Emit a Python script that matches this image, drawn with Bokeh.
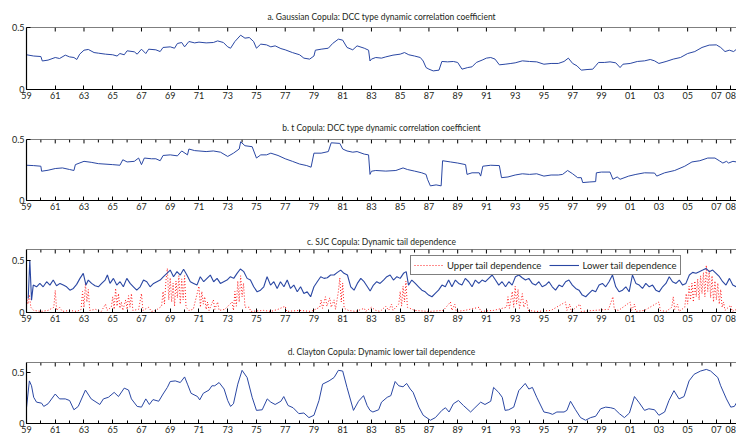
from bokeh.plotting import figure
from bokeh.models import FixedTicker, Range1d, Legend, LegendItem, Span
from bokeh.layouts import column
from bokeh.embed import file_html
from bokeh.resources import INLINE

# ---------------- data (x = year - 1900) ----------------
tick_years = [59, 61, 63, 65, 67, 69, 71, 73, 75, 77, 79, 81, 83, 85, 87, 89, 91, 93, 95, 97, 99, 101, 103, 105, 107, 108]
tick_labels = ["59", "61", "63", "65", "67", "69", "71", "73", "75", "77", "79", "81", "83", "85", "87", "89", "91", "93",
               "95", "97", "99", "01", "03", "05", "07", "08"]
minor_years = [60, 62, 64, 66, 68, 70, 72, 74, 76, 78, 80, 82, 84, 86, 88, 90, 92, 94, 96, 98, 100, 102, 104, 106]

titles = ["a. Gaussian Copula: DCC type dynamic correlation coefficient",
          "b. t Copula: DCC type dynamic correlation coefficient",
          "c. SJC Copula: Dynamic tail dependence",
          "d. Clayton Copula: Dynamic lower tail dependence"]
legend_labels = ["Upper tail dependence", "Lower tail dependence"]
y_ticks = [0, 0.5]
y_tick_labels = ["0", "0.5"]

gauss_x = [59.0, 59.5, 60.0, 60.1, 60.5, 61.0, 61.3, 61.7, 62.0, 62.3, 62.5, 62.7, 63.0, 63.3, 63.7, 64.0, 64.5,
           65.0, 65.3, 65.5, 65.8, 66.0, 66.5, 66.7, 67.0, 67.3, 67.5, 68.0, 68.3, 68.5, 69.0, 69.3, 69.5, 69.8,
           70.0, 70.3, 70.7, 71.0, 71.5, 72.0, 72.3, 72.7, 73.0, 73.2, 73.5, 73.9, 74.2, 74.5, 74.8, 75.0, 75.3,
           75.7, 76.0, 76.3, 76.7, 77.0, 77.5, 78.0, 78.3, 78.7, 79.0, 79.1, 79.5, 80.0, 80.3, 80.7, 81.0, 81.3,
           81.7, 82.0, 82.5, 82.8, 82.9,
           83.0, 83.3, 83.7, 84.0, 84.5, 85.0, 85.3, 85.6, 86.0, 86.4, 86.6, 86.8, 87.0, 87.3, 87.7, 87.9, 88.3,
           88.7, 89.0, 89.3, 89.7, 90.0, 90.3, 90.7, 91.0, 91.3, 91.6, 91.9, 92.3, 92.7, 93.0, 93.5, 94.0, 94.5,
           95.0, 95.5, 96.0, 96.4, 96.7, 97.0, 97.3, 97.6, 98.0, 98.4, 98.6, 98.8, 99.2, 99.6, 100.0, 100.3, 100.5,
           101.0, 101.5, 102.0, 102.4, 102.7, 103.0, 103.5, 104.0, 104.5, 105.0, 105.5, 106.0, 106.5, 107.0, 107.3,
           107.6, 107.9, 108.2, 108.4]
gauss_y = [0.28, 0.27, 0.266, 0.23, 0.237, 0.258, 0.25, 0.277, 0.263, 0.258, 0.242, 0.285, 0.317, 0.323, 0.298, 0.293,
           0.285, 0.28, 0.27, 0.29, 0.28, 0.312, 0.304, 0.285, 0.325, 0.29, 0.325, 0.32, 0.306, 0.339, 0.344, 0.333,
           0.371, 0.379, 0.344, 0.387, 0.376, 0.382, 0.376, 0.379, 0.392, 0.379, 0.344, 0.333, 0.387, 0.438, 0.414,
           0.419, 0.387, 0.333, 0.366, 0.36, 0.344, 0.352, 0.33, 0.32, 0.298, 0.28, 0.253, 0.245, 0.27, 0.317, 0.325,
           0.333, 0.371, 0.406, 0.398, 0.339, 0.32, 0.352, 0.333, 0.317, 0.23,
           0.245, 0.258, 0.253, 0.263, 0.277, 0.285, 0.298, 0.28, 0.27, 0.258, 0.23, 0.177, 0.164, 0.15, 0.156, 0.226,
           0.223, 0.226, 0.218, 0.164, 0.177, 0.183, 0.218, 0.237, 0.253, 0.258, 0.245, 0.199, 0.204, 0.21, 0.215,
           0.231, 0.226, 0.223, 0.204, 0.21, 0.21, 0.226, 0.253, 0.21, 0.191, 0.156, 0.161, 0.164, 0.191, 0.218,
           0.218, 0.223, 0.215, 0.177, 0.204, 0.21, 0.226, 0.231, 0.242, 0.231, 0.21, 0.226, 0.245, 0.258, 0.29,
           0.306, 0.339, 0.358, 0.36, 0.339, 0.306, 0.317, 0.306, 0.325]

t_x = [59.0, 59.5, 60.0, 60.05, 60.5, 61.0, 61.5, 62.0, 62.3, 62.4, 63.0, 63.5, 64.0, 65.0, 65.5, 65.7, 66.0, 66.5,
       66.8, 67.0, 67.2, 67.7, 68.0, 68.3, 68.5, 69.0, 69.5, 69.8, 70.2, 70.3, 70.7, 71.0, 71.5, 72.0, 72.5, 73.0,
       73.4, 73.8, 73.9, 74.2, 74.7, 75.0, 75.3, 75.7, 76.0, 76.5, 77.0, 77.5, 78.0, 78.5, 78.8, 79.0, 79.5, 80.0,
       80.2, 80.8, 81.0, 81.3, 81.7, 82.0, 82.5, 82.8, 82.9, 83.0,
       83.3, 84.0, 84.7, 85.2, 85.5, 86.0, 86.5, 86.8, 86.9, 87.1, 87.5, 87.85, 87.95, 88.5, 89.0, 89.55, 89.65,
       90.0, 90.5, 90.6, 90.75, 91.3, 91.9, 92.05, 92.5, 93.0, 93.5, 94.0, 94.5, 95.0, 95.5, 96.0, 96.3, 96.65,
       97.0, 97.35, 97.6, 97.7, 98.2, 98.6, 98.65, 99.0, 99.6, 99.8, 100.1, 100.3, 100.9, 101.4, 102.0, 102.7,
       102.85, 103.4, 104.1, 104.8, 105.3, 105.85, 106.4, 106.9, 107.2, 107.45, 107.7, 107.85, 108.15, 108.4]
t_y = [0.289, 0.286, 0.281, 0.24, 0.248, 0.262, 0.267, 0.254, 0.246, 0.294, 0.321, 0.313, 0.302, 0.294, 0.289, 0.334,
       0.316, 0.321, 0.348, 0.294, 0.348, 0.342, 0.342, 0.326, 0.369, 0.374, 0.366, 0.406, 0.374, 0.422, 0.409,
       0.406, 0.401, 0.406, 0.396, 0.361, 0.388, 0.422, 0.481, 0.449, 0.441, 0.348, 0.374, 0.374, 0.388, 0.369,
       0.342, 0.321, 0.299, 0.286, 0.273, 0.388, 0.388, 0.401, 0.473, 0.468, 0.422, 0.406, 0.396, 0.401, 0.38,
       0.374, 0.214, 0.24,
       0.246, 0.241, 0.246, 0.267, 0.254, 0.241, 0.227, 0.214, 0.174, 0.12, 0.128, 0.12, 0.326, 0.316, 0.307,
       0.294, 0.214, 0.227, 0.227, 0.2, 0.281, 0.289, 0.286, 0.187, 0.193, 0.209, 0.219, 0.214, 0.219, 0.2, 0.209,
       0.209, 0.214, 0.246, 0.219, 0.187, 0.187, 0.147, 0.152, 0.155, 0.227, 0.233, 0.233, 0.174, 0.193, 0.174,
       0.2, 0.214, 0.227, 0.225, 0.2, 0.227, 0.246, 0.281, 0.316, 0.326, 0.348, 0.348, 0.326, 0.307, 0.321, 0.307,
       0.321, 0.316]

lower_x = [59.12, 59.23, 59.35, 59.47, 59.70, 59.93, 60.16, 60.40, 60.63, 60.86, 61.09, 61.33, 61.56, 61.79, 62.02,
           62.26, 62.49, 62.72, 62.95, 63.14, 63.30, 63.53, 63.77, 64.00, 64.23, 64.47, 64.63, 64.81, 65.05, 65.28,
           65.51, 65.74, 65.98, 66.21, 66.44, 66.67, 66.91, 67.14, 67.37, 67.60, 67.84, 68.07, 68.30, 68.53, 68.77,
           69.00, 69.23, 69.47, 69.70, 69.93, 70.16, 70.40, 70.63, 70.86, 71.09, 71.33, 71.56, 71.79, 72.02, 72.26,
           72.49, 72.72, 72.95, 73.19, 73.42, 73.65, 73.88, 74.12, 74.35, 74.58, 74.81, 75.05, 75.28, 75.51, 75.74,
           75.98, 76.21, 76.44, 76.67, 76.91, 77.14, 77.37, 77.60, 77.84, 78.07, 78.30, 78.53, 78.77, 79.00, 79.23,
           79.47, 79.70, 79.93, 80.16, 80.40, 80.63, 80.86, 81.09, 81.33, 81.56, 81.79, 82.02, 82.26, 82.49, 82.72,
           82.91,
           83.14, 83.37, 83.60, 83.84, 84.07, 84.30, 84.53, 84.77, 85.00, 85.23, 85.42, 85.58, 85.81, 86.05, 86.28,
           86.51, 86.74, 86.98, 87.21, 87.44, 87.67, 87.91, 88.14, 88.37, 88.60, 88.84, 89.07, 89.30, 89.53, 89.77,
           90.00, 90.23, 90.47, 90.70, 90.93, 91.16, 91.40, 91.63, 91.86, 92.09, 92.33, 92.56, 92.79, 93.02, 93.26,
           93.49, 93.72, 93.95, 94.19, 94.42, 94.65, 94.88, 95.12, 95.35, 95.58, 95.81, 96.05, 96.28, 96.51, 96.74,
           96.98, 97.21, 97.44, 97.67, 97.91, 98.14, 98.37, 98.60, 98.84, 99.07, 99.30, 99.53, 99.77, 100.00, 100.23,
           100.47, 100.70, 100.93, 101.16, 101.40, 101.63, 101.86, 102.09, 102.33, 102.56, 102.79, 103.02, 103.26,
           103.49, 103.72, 103.95, 104.19, 104.42, 104.65, 104.88, 105.12, 105.35, 105.58, 105.81, 106.05, 106.28,
           106.51, 106.74, 106.98, 107.21, 107.44, 107.67, 107.91, 108.14, 108.37]
lower_y = [0.134, 0.5, 0.118, 0.261, 0.245, 0.277, 0.245, 0.293, 0.261, 0.309,
           0.255, 0.277, 0.261, 0.245, 0.213, 0.229, 0.268, 0.325, 0.373, 0.261,
           0.309, 0.277, 0.255, 0.245, 0.277, 0.309, 0.357, 0.277, 0.325, 0.261,
           0.293, 0.245, 0.325, 0.277, 0.245, 0.213, 0.245, 0.309, 0.293, 0.245,
           0.277, 0.293, 0.309, 0.341, 0.373, 0.404, 0.341, 0.389, 0.357, 0.411,
           0.357, 0.293, 0.277, 0.261, 0.341, 0.293, 0.325, 0.357, 0.293, 0.325,
           0.277, 0.293, 0.309, 0.341, 0.325, 0.373, 0.414, 0.389, 0.325, 0.309,
           0.245, 0.197, 0.213, 0.245, 0.341, 0.261, 0.293, 0.229, 0.293, 0.245,
           0.309, 0.229, 0.261, 0.197, 0.245, 0.182, 0.197, 0.150, 0.245, 0.293,
           0.341, 0.325, 0.331, 0.357, 0.357, 0.382, 0.404, 0.373, 0.357, 0.245,
           0.213, 0.277, 0.325, 0.293, 0.245, 0.204,
           0.261, 0.293, 0.277, 0.309, 0.341, 0.357, 0.309, 0.341, 0.325, 0.373,
           0.389,
           0.261, 0.309, 0.277, 0.245, 0.213, 0.197, 0.166, 0.150, 0.182, 0.213,
           0.261, 0.245, 0.309, 0.245, 0.309, 0.277, 0.261, 0.325, 0.293, 0.245,
           0.309, 0.277, 0.309, 0.293, 0.325, 0.357, 0.309, 0.261, 0.293, 0.245,
           0.293, 0.261, 0.341, 0.357, 0.331, 0.309, 0.325, 0.277, 0.261, 0.293,
           0.245, 0.261, 0.293, 0.245, 0.213, 0.261, 0.245, 0.293, 0.309, 0.261,
           0.229, 0.213, 0.166, 0.150, 0.182, 0.213, 0.197, 0.261, 0.277, 0.245,
           0.293, 0.357, 0.245, 0.197, 0.213, 0.245, 0.197, 0.357, 0.277, 0.261,
           0.229, 0.277, 0.245, 0.261, 0.213, 0.197, 0.245, 0.277, 0.341, 0.293,
           0.277, 0.309, 0.261, 0.277, 0.357, 0.382, 0.373, 0.389, 0.404, 0.420,
           0.389, 0.404, 0.373, 0.341, 0.293, 0.261, 0.325, 0.261, 0.245]

upper_x = [59.0, 59.1, 59.2, 59.3, 59.5, 60.0, 60.5, 60.9, 61.0, 61.1, 61.3, 61.5,
           62.0, 62.5, 62.8, 62.9, 63.0, 63.1, 63.2, 63.3, 63.4, 63.8,
           64.2, 64.5, 64.6, 64.9, 65.0, 65.1, 65.2, 65.3, 65.4, 65.5, 65.6, 65.7,
           65.9, 66.0, 66.1, 66.2, 66.3, 66.4, 66.8, 67.0, 67.1, 67.5, 67.7,
           68.0, 68.4, 68.5, 68.6, 68.7, 68.8, 68.9, 69.0, 69.1, 69.2, 69.3, 69.4, 69.5, 69.6, 69.7, 69.8, 69.9, 70.0, 70.1,
           70.3, 70.6, 71.0, 71.1, 71.2, 71.3, 71.4, 71.5, 71.6, 71.7,
           72.0, 72.1, 72.3, 72.4, 72.8,
           73.3, 73.4, 73.5, 73.6, 73.7, 73.8, 73.9, 74.0, 74.1, 74.2,
           74.5, 74.6, 75.5, 76.0, 76.5, 77.0, 77.1, 78.0, 78.8,
           79.4, 79.5, 79.6, 79.8, 79.9, 80.1, 80.2, 80.4, 80.5, 80.7, 80.8, 80.9, 81.0, 81.1,
           81.4, 81.9, 82.5, 82.6, 83.0, 83.3, 83.6,
           84.0, 84.2, 84.4, 84.5, 84.9, 85.0, 85.1, 85.2, 85.3, 85.4, 85.5,
           86.0, 87.0, 88.0, 88.5, 88.6, 88.8, 88.9, 89.5, 90.5, 90.6, 91.5,
           92.4, 92.5, 92.6, 92.8, 92.9, 93.0, 93.1, 93.2, 93.3, 93.5, 93.6, 93.8, 93.9,
           94.5, 95.5, 96.5, 96.6, 96.8, 96.9, 97.5, 97.6, 98.5, 99.5, 99.8, 99.9, 100.2,
           101.0, 101.1, 101.3, 101.4, 102.0, 103.0, 103.1, 103.5,
           103.9, 104.0, 104.1, 104.3, 104.4,
           104.8, 104.9, 105.0, 105.1, 105.2, 105.3, 105.4, 105.5, 105.6, 105.7, 105.8, 105.9, 106.0, 106.1, 106.2,
           106.3, 106.4, 106.5, 106.6, 106.7, 106.8, 106.9, 107.0, 107.1, 107.2, 107.3, 107.4, 107.5, 107.6,
           108.0, 108.1, 108.4]
upper_y = [0.15, 0.08, 0.17, 0.05, 0.02, 0.01, 0.02, 0.05, 0.21, 0.02, 0.05, 0.01,
           0.02, 0.01, 0.03, 0.2, 0.05, 0.28, 0.1, 0.22, 0.02, 0.03,
           0.01, 0.08, 0.02, 0.05, 0.15, 0.03, 0.23, 0.06, 0.18, 0.04, 0.1, 0.02,
           0.12, 0.03, 0.16, 0.05, 0.18, 0.02, 0.03, 0.18, 0.02, 0.05, 0.01,
           0.02, 0.06, 0.2, 0.08, 0.3, 0.42, 0.12, 0.33, 0.1, 0.28, 0.06, 0.3, 0.14, 0.35, 0.08, 0.32, 0.12, 0.35, 0.05,
           0.02, 0.03, 0.25, 0.05, 0.2, 0.08, 0.15, 0.03, 0.1, 0.02,
           0.12, 0.03, 0.1, 0.02, 0.03,
           0.1, 0.02, 0.2, 0.06, 0.3, 0.1, 0.35, 0.15, 0.28, 0.05,
           0.05, 0.01, 0.02, 0.01, 0.03, 0.06, 0.01, 0.02, 0.01,
           0.05, 0.12, 0.04, 0.15, 0.06, 0.14, 0.05, 0.12, 0.03, 0.2, 0.33, 0.1, 0.28, 0.04,
           0.02, 0.01, 0.04, 0.01, 0.05, 0.02, 0.01,
           0.06, 0.02, 0.08, 0.02, 0.08, 0.2, 0.06, 0.25, 0.1, 0.3, 0.05,
           0.02, 0.01, 0.02, 0.1, 0.02, 0.08, 0.01, 0.02, 0.05, 0.01, 0.02,
           0.05, 0.15, 0.04, 0.2, 0.05, 0.25, 0.08, 0.22, 0.04, 0.18, 0.05, 0.12, 0.02,
           0.01, 0.02, 0.1, 0.02, 0.08, 0.01, 0.08, 0.01, 0.02, 0.03, 0.15, 0.03, 0.02,
           0.1, 0.02, 0.08, 0.01, 0.02, 0.1, 0.02, 0.01,
           0.05, 0.15, 0.03, 0.08, 0.01,
           0.05, 0.18, 0.08, 0.25, 0.12, 0.28, 0.1, 0.3, 0.15, 0.32, 0.12, 0.35, 0.18, 0.38, 0.15,
           0.45, 0.2, 0.4, 0.14, 0.35, 0.1, 0.3, 0.12, 0.28, 0.08, 0.22, 0.05, 0.1, 0.02,
           0.07, 0.01, 0.03]

clayton_x = [59.0, 59.2, 59.35, 59.5, 59.7, 60.05, 60.2, 60.5, 61.0, 61.3, 61.7, 62.0, 62.3, 62.6, 63.1, 63.5, 64.1,
             64.35, 64.7, 65.1, 65.4, 65.8, 66.1, 66.3, 66.7, 67.0, 67.3, 67.55, 67.8, 68.2, 68.5, 68.8, 69.0, 69.35,
             69.7, 70.0, 70.2, 70.45, 70.9, 71.05, 71.3, 71.7, 71.9, 72.1, 72.4, 72.75, 73.0, 73.2, 73.4, 73.7, 74.0,
             74.35, 74.7, 75.0, 75.4, 75.75, 76.0, 76.3, 76.7, 76.9, 77.2, 77.55, 77.95, 78.3, 78.65, 79.0, 79.35,
             79.6, 80.05, 80.4, 80.7, 81.0, 81.3, 81.75, 82.1, 82.45, 82.7,
             82.9, 83.1, 83.5, 83.7, 84.1, 84.35, 84.65, 84.9, 85.2, 85.45, 85.7, 85.9, 86.3, 86.6, 87.1, 87.45, 87.9,
             88.15, 88.4, 88.7, 89.05, 89.4, 89.9, 90.2, 90.6, 90.9, 91.3, 91.5, 91.85, 92.1, 92.3, 92.55, 92.9,
             93.25, 93.7, 93.95, 94.2, 94.5, 95.0, 95.35, 95.6, 95.9, 96.4, 96.6, 96.85, 97.2, 97.55, 97.9, 98.25,
             98.6, 98.95, 99.3, 99.65, 99.9, 100.25, 100.6, 100.95, 101.3, 101.6, 102.0, 102.3, 102.7, 103.0, 103.4,
             103.7, 104.05, 104.4, 104.75, 105.1, 105.45, 105.9, 106.3, 106.6, 107.1, 107.3, 107.7, 108.0, 108.25,
             108.45]
clayton_y = [0.155, 0.419, 0.371, 0.258, 0.210, 0.200, 0.168, 0.194, 0.290, 0.242, 0.242, 0.226, 0.135, 0.168, 0.329,
             0.242, 0.187, 0.242, 0.258, 0.306, 0.265, 0.348, 0.329, 0.242, 0.168, 0.161, 0.242, 0.187, 0.235, 0.219,
             0.290, 0.355, 0.413, 0.419, 0.403, 0.458, 0.387, 0.297, 0.265, 0.232, 0.297, 0.329, 0.371, 0.371, 0.403,
             0.339, 0.226, 0.168, 0.194, 0.387, 0.523, 0.452, 0.258, 0.129, 0.135, 0.242, 0.210, 0.187, 0.219, 0.265,
             0.177, 0.155, 0.097, 0.103, 0.058, 0.081, 0.226, 0.387, 0.419, 0.452, 0.523, 0.516, 0.355, 0.129, 0.219,
             0.274, 0.177,
             0.129, 0.113, 0.135, 0.210, 0.258, 0.274, 0.413, 0.371, 0.361, 0.394, 0.339, 0.306, 0.161, 0.081, 0.032,
             0.058, 0.129, 0.155, 0.113, 0.194, 0.226, 0.177, 0.113, 0.155, 0.210, 0.187, 0.219, 0.355, 0.306, 0.258,
             0.129, 0.135, 0.161, 0.323, 0.394, 0.339, 0.355, 0.258, 0.113, 0.103, 0.090, 0.113, 0.113, 0.129, 0.219,
             0.135, 0.058, 0.032, 0.058, 0.071, 0.145, 0.161, 0.155, 0.145, 0.097, 0.058, 0.103, 0.265, 0.210, 0.129,
             0.145, 0.135, 0.081, 0.113, 0.226, 0.323, 0.242, 0.265, 0.419, 0.484, 0.516, 0.532, 0.516, 0.452, 0.371,
             0.242, 0.161, 0.168, 0.216]

# ---------------- style ----------------
BLUE = "#2a47a3"
RED = "#ff1a1a"
TXT = "#231f20"
FONT = "Lato"
X0, X1 = 59, 108.4


def pairs(xs, ys):
    n = min(len(xs), len(ys))
    return list(xs[:n]), list(ys[:n])


def make_panel(title, ymax, minor, height, top_b, bottom_b, t_standoff):
    frame_h = height - top_b - bottom_b
    p = figure(width=736, height=height, x_range=Range1d(X0, X1), y_range=Range1d(0, ymax),
               output_backend="svg", toolbar_location=None, title=title,
               min_border_left=26, min_border_right=0, min_border_top=top_b, min_border_bottom=bottom_b,
               outline_line_color=None, background_fill_color="white", border_fill_color="white")
    p.title.align = "center"
    p.title.text_font = FONT
    p.title.text_font_size = "8.5px"
    p.title.text_font_style = "normal"
    p.title.text_color = TXT
    p.title.standoff = t_standoff
    p.grid.visible = False

    xb = p.below[0]
    xb.ticker = FixedTicker(ticks=tick_years, minor_ticks=minor_years if minor else [])
    xb.major_label_overrides = {t: l for t, l in zip(tick_years, tick_labels)}
    xb.major_tick_in = 4
    xb.major_tick_out = 0
    xb.minor_tick_in = 3
    xb.minor_tick_out = 0
    xb.axis_line_width = 1.2
    xb.major_label_text_font = FONT
    xb.major_label_text_font_size = "9px"
    xb.major_label_text_color = TXT
    xb.major_label_standoff = 2

    # top frame line and inward top ticks (built from the tick arrays)
    p.add_layout(Span(location=ymax, dimension="width", line_color="black", line_width=1.2))
    d_major = 4.0 * ymax / frame_h
    d_minor = 3.0 * ymax / frame_h
    p.segment(x0=tick_years, y0=[ymax] * len(tick_years), x1=tick_years,
              y1=[ymax - d_major] * len(tick_years), line_color="black", line_width=1)
    if minor:
        p.segment(x0=minor_years, y0=[ymax] * len(minor_years), x1=minor_years,
                  y1=[ymax - d_minor] * len(minor_years), line_color="black", line_width=1)

    ya = p.yaxis[0]
    ya.ticker = FixedTicker(ticks=y_ticks, minor_ticks=[])
    ya.major_label_overrides = {t: l for t, l in zip(y_ticks, y_tick_labels)}
    ya.major_tick_in = 4
    ya.major_tick_out = 0
    ya.axis_line_width = 1.2
    ya.major_label_text_font = FONT
    ya.major_label_text_font_size = "9px"
    ya.major_label_text_color = TXT
    ya.major_label_standoff = 2
    return p


pa = make_panel(titles[0], 0.5, False, 113, 27, 24, 12)
gx, gy = pairs(gauss_x, gauss_y)
pa.line(gx, gy, line_color=BLUE, line_width=1)

pb = make_panel(titles[1], 0.5, True, 111, 25, 24, 14)
tx, ty = pairs(t_x, t_y)
pb.line(tx, ty, line_color=BLUE, line_width=1)

pc = make_panel(titles[2], 0.6, True, 113, 25, 25, 6)
ux, uy = pairs(upper_x, upper_y)
lx, ly = pairs(lower_x, lower_y)
r_up = pc.line(ux, uy, line_color=RED, line_width=1, line_dash="1 2")
r_lo = pc.line(lx, ly, line_color=BLUE, line_width=1.1)
leg = Legend(items=[LegendItem(label=legend_labels[0], renderers=[r_up]),
                    LegendItem(label=legend_labels[1], renderers=[r_lo])],
             orientation="horizontal", location=(384, 37))
leg.label_text_font = FONT
leg.label_text_font_size = "9.5px"
leg.label_text_color = TXT
leg.label_standoff = 3
leg.label_height = 12
leg.glyph_height = 12
leg.glyph_width = 30
leg.spacing = 8
leg.padding = 3
leg.margin = 0
leg.border_line_color = "black"
leg.border_line_width = 1.5
leg.background_fill_alpha = 1
pc.add_layout(leg)

pd = make_panel(titles[3], 0.6, True, 101, 25, 15, 11)
cx, cy = pairs(clayton_x, clayton_y)
pd.line(cx, cy, line_color=BLUE, line_width=1)

layout = column(pa, pb, pc, pd, spacing=0)
open("out.html", "w").write(file_html(layout, INLINE))
